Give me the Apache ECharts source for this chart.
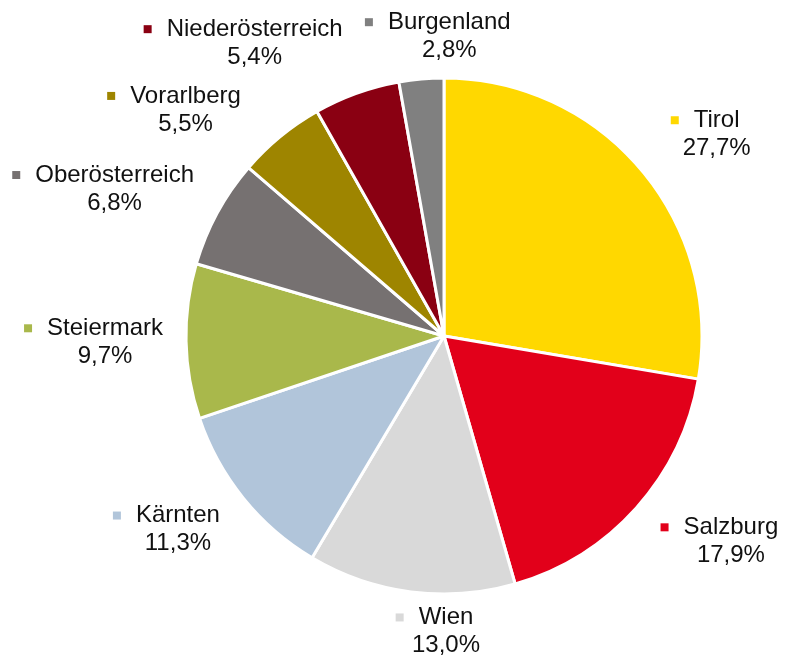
<!DOCTYPE html>
<html>
<head>
<meta charset="utf-8">
<script src="https://cdn.jsdelivr.net/npm/echarts@6/dist/echarts.min.js"></script>
<style>
html,body{margin:0;padding:0;background:#fff;}
#chart{width:785px;height:657px;}
</style>
</head>
<body>
<div id="chart"></div>
<script>
// ---- data ----
const categories = ['Tirol','Salzburg','Wien','Kärnten','Steiermark','Oberösterreich','Vorarlberg','Niederösterreich','Burgenland'];
const values = [27.7, 17.9, 13.0, 11.3, 9.7, 6.8, 5.5, 5.4, 2.8];

// ---- styles / layout ----
const colors = ['#FFD800','#E2001A','#D9D9D9','#B1C5DA','#A9B84B','#767171','#9E8500','#8A0012','#808080'];
const CX = 444, CY = 336, R = 258;
const DX = 300, DY = 280, HALF_H = 28, MARK = 8, GAP = 15;
// small nudges for label placement (px), applied after radial placement
const nudge = [[26,-3],[28,0],[44,-10],[0,0],[19,0],[4,0],[-33,12],[-58,-3],[37,7]];

const total = values.reduce((a,b)=>a+b,0);
const midAngles = [];
{
  let acc = 0;
  values.forEach(v => { midAngles.push((acc + v/2) / total * 2 * Math.PI); acc += v; });
}

const FONT = 'Liberation Sans, Arial, sans-serif';
const rich = {
  g: {width: GAP, height: 1},
  s: {width: MARK + GAP, height: 1},
  n: {fontSize: 24, lineHeight: 28, color: '#111111', fontFamily: FONT},
  p: {fontSize: 24, lineHeight: 28, color: '#111111', fontFamily: FONT}
};
colors.forEach((c,i) => { rich['m'+i] = {width: MARK, height: MARK, backgroundColor: c, verticalAlign: 'middle'}; });

const fmt = v => v.toFixed(1).replace('.', ',') + '%';

const chart = echarts.init(document.getElementById('chart'), null, {renderer: 'canvas'});
chart.setOption({
  backgroundColor: '#ffffff',
  animation: false,
  series: [{
    type: 'pie',
    center: [CX, CY],
    radius: [0, R],
    startAngle: 90,
    clockwise: true,
    avoidLabelOverlap: false,
    itemStyle: {borderColor: '#ffffff', borderWidth: 3},
    label: {
      show: true,
      position: 'outside',
      fontSize: 24,
      lineHeight: 28,
      fontFamily: FONT,
      color: '#111111',
      formatter: p => '{m' + p.dataIndex + '|}{g|}{n|' + p.name + '}{s|}\n{p|' + fmt(p.value) + '}',
      rich: rich
    },
    labelLine: {show: false},
    labelLayout: function (params) {
      const i = params.dataIndex;
      const a = midAngles[i];
      const dx = Math.sin(a), dy = -Math.cos(a);
      const halfW = params.labelRect.width / 2 - (MARK + GAP);
      return {
        x: CX + dx * (DX + halfW) + nudge[i][0],
        y: CY + dy * (DY + HALF_H) + nudge[i][1],
        align: 'center',
        verticalAlign: 'middle'
      };
    },
    data: categories.map((c,i) => ({name: c, value: values[i], itemStyle: {color: colors[i]}}))
  }]
});
</script>
</body>
</html>
